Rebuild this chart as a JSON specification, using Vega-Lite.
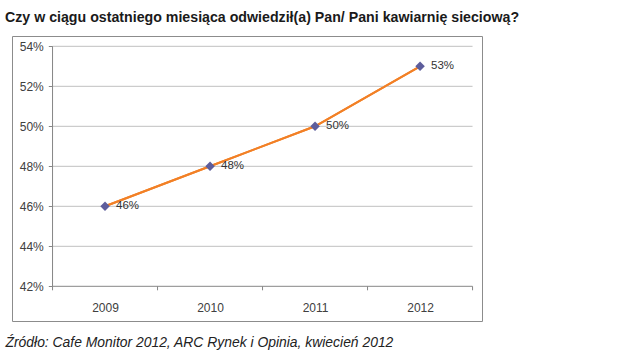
{
  "$schema": "https://vega.github.io/schema/vega-lite/v6.json",
  "width": 470,
  "height": 285,
  "autosize": {"type": "none"},
  "padding": {"left": 12, "top": 36, "right": 158, "bottom": 36},
  "background": "white",
  "config": {
    "view": {"stroke": "#8c8c8c", "strokeWidth": 1},
    "font": "Liberation Sans"
  },
  "title": {
    "text": "Czy w ciągu ostatniego miesiąca odwiedził(a) Pan/ Pani kawiarnię sieciową?",
    "anchor": "start",
    "frame": "group",
    "font": "Liberation Sans",
    "fontSize": 14.2,
    "fontWeight": "bold",
    "color": "#1a1a1a",
    "baseline": "alphabetic",
    "dx": -7,
    "offset": 0
  },
  "datasets": {
    "series": [
      {"year": 2009, "share": 0.46},
      {"year": 2010, "share": 0.48},
      {"year": 2011, "share": 0.50},
      {"year": 2012, "share": 0.53}
    ],
    "grid": [
      {"tick": 0.44}, {"tick": 0.46}, {"tick": 0.48},
      {"tick": 0.50}, {"tick": 0.52}, {"tick": 0.54}
    ],
    "bounds": [
      {"edge": 2008.5}, {"edge": 2009.5}, {"edge": 2010.5},
      {"edge": 2011.5}, {"edge": 2012.5}
    ],
    "one": [{}]
  },
  "layer": [
    {
      "data": {"name": "series"},
      "mark": {"type": "line", "color": "#f28026", "strokeWidth": 2},
      "encoding": {
        "x": {
          "field": "year",
          "type": "quantitative",
          "scale": {"domain": [2008.114, 2012.59], "nice": false, "zero": false},
          "axis": {
            "values": [2009, 2010, 2011, 2012],
            "format": "d",
            "offset": -34.7,
            "domain": false,
            "grid": false,
            "ticks": false,
            "tickSize": 0,
            "labelPadding": 16,
            "labelFlush": false,
            "labelFont": "Liberation Sans",
            "labelFontSize": 12,
            "labelColor": "#404040",
            "title": "Źródło: Cafe Monitor 2012, ARC Rynek i Opinia, kwiecień 2012",
            "titleFont": "Liberation Sans",
            "titleFontStyle": "italic",
            "titleFontWeight": "normal",
            "titleFontSize": 13.9,
            "titleColor": "#222222",
            "titleAlign": "left",
            "titleBaseline": "alphabetic",
            "titleX": -7,
            "titleY": 60.4
          }
        },
        "y": {
          "field": "share",
          "type": "quantitative",
          "scale": {"domain": [0.40265, 0.54515], "nice": false, "zero": false},
          "axis": {
            "values": [0.42, 0.44, 0.46, 0.48, 0.50, 0.52, 0.54],
            "format": ".0%",
            "offset": -40.3,
            "domain": false,
            "grid": false,
            "tickSize": 4,
            "tickColor": "#868686",
            "labelPadding": 5,
            "labelFont": "Liberation Sans",
            "labelFontSize": 12,
            "labelColor": "#404040",
            "title": null
          }
        }
      }
    },
    {
      "data": {"name": "grid"},
      "mark": {"type": "rule", "color": "#c0c0c0", "strokeWidth": 1},
      "encoding": {
        "y": {"field": "tick", "type": "quantitative"},
        "x": {"datum": 2008.5, "type": "quantitative"},
        "x2": {"datum": 2012.5}
      }
    },
    {
      "data": {"name": "one"},
      "mark": {"type": "rule", "color": "#868686", "strokeWidth": 1},
      "encoding": {
        "x": {"datum": 2008.5, "type": "quantitative"},
        "y": {"datum": 0.42, "type": "quantitative"},
        "y2": {"datum": 0.54}
      }
    },
    {
      "data": {"name": "one"},
      "mark": {"type": "rule", "color": "#868686", "strokeWidth": 1},
      "encoding": {
        "x": {"datum": 2008.5, "type": "quantitative"},
        "x2": {"datum": 2012.5},
        "y": {"datum": 0.42, "type": "quantitative"}
      }
    },
    {
      "data": {"name": "bounds"},
      "mark": {"type": "rule", "color": "#868686", "strokeWidth": 1},
      "encoding": {
        "x": {"field": "edge", "type": "quantitative"},
        "y": {"datum": 0.42, "type": "quantitative"},
        "y2": {"datum": 0.418}
      }
    },
    {
      "data": {"name": "series"},
      "mark": {"type": "line", "color": "#f28026", "strokeWidth": 2},
      "encoding": {
        "x": {"field": "year", "type": "quantitative"},
        "y": {"field": "share", "type": "quantitative"}
      }
    },
    {
      "data": {"name": "series"},
      "mark": {"type": "point", "shape": "diamond", "filled": true, "color": "#5d5d9c", "size": 90, "opacity": 1},
      "encoding": {
        "x": {"field": "year", "type": "quantitative"},
        "y": {"field": "share", "type": "quantitative"}
      }
    },
    {
      "data": {"name": "series"},
      "mark": {"type": "text", "align": "left", "baseline": "middle", "dx": 11, "fontSize": 11.5, "font": "Liberation Sans", "color": "#333333"},
      "encoding": {
        "x": {"field": "year", "type": "quantitative"},
        "y": {"field": "share", "type": "quantitative"},
        "text": {"field": "share", "type": "quantitative", "format": ".0%"}
      }
    }
  ]
}
